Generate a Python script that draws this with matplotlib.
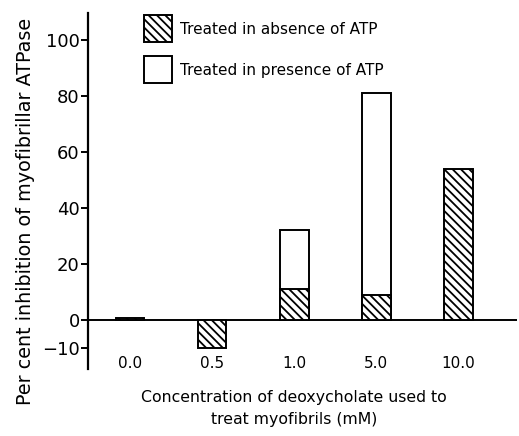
import numpy as np
import matplotlib
matplotlib.use("Agg")
from matplotlib import pyplot as plt

conc_labels = ["0.0", "0.5", "1.0", "5.0", "10.0"]
absence_atp = [0.8, -10, 11, 9, 54]
presence_atp = [np.nan, np.nan, 32, 81, np.nan]
y_ticks = [100, 80, 60, 40, 20, 0, -10]

plt.rcParams['hatch.linewidth'] = 1.3

fig = plt.figure(figsize=(5.19, 4.36), dpi=100)
ax = fig.add_axes([0.1696, 0.1537, 0.8264, 0.8163])

x = np.arange(len(conc_labels))
ax.bar(x, presence_atp, width=0.35, color="white", edgecolor="black", linewidth=1.4, zorder=2)
ax.bar(x, absence_atp, width=0.35, color="white", edgecolor="black", hatch="\\\\\\\\", linewidth=1.4, zorder=3)

ax.axhline(0, color="black", linewidth=1.4, zorder=1)

ax.set_xlim(-0.51, 4.71)
ax.set_ylim(-17.5, 109.6)

for s in ["top", "right", "bottom"]:
    ax.spines[s].set_visible(False)
ax.spines["left"].set_linewidth(1.6)

ax.set_yticks(y_ticks)
ax.set_yticklabels(["100", "80", "60", "40", "20", "0", "\u221210"], fontsize=13)
ax.tick_params(axis="y", length=5, width=1.4, pad=1)
ax.set_xticks([])

for i, lab in enumerate(conc_labels):
    ax.text(i, -15.5, lab, ha="center", va="center", fontsize=11)

fig.text(0.05, 0.516, "Per cent inhibition of myofibrillar ATPase", rotation=90,
         ha="center", va="center", fontsize=13.8)
fig.text(0.566, 0.063, "Concentration of deoxycholate used to\ntreat myofibrils (mM)",
         ha="center", va="center", fontsize=11.3, linespacing=1.55)

# legend boxes drawn by hand
leg_ax = fig.add_axes([0, 0, 1, 1], facecolor="none")
leg_ax.set_axis_off()
leg_ax.set_xlim(0, 519)
leg_ax.set_ylim(436, 0)
leg_ax.add_patch(plt.Rectangle((144, 15), 28, 27, facecolor="white", edgecolor="black",
                               hatch="\\\\\\\\", linewidth=1.4))
leg_ax.add_patch(plt.Rectangle((144, 56), 28, 27, facecolor="white", edgecolor="black",
                               linewidth=1.4))
leg_ax.text(180, 29, "Treated in absence of ATP", va="center", fontsize=11)
leg_ax.text(180, 70, "Treated in presence of ATP", va="center", fontsize=11)

fig.savefig("out.png", dpi=100)
